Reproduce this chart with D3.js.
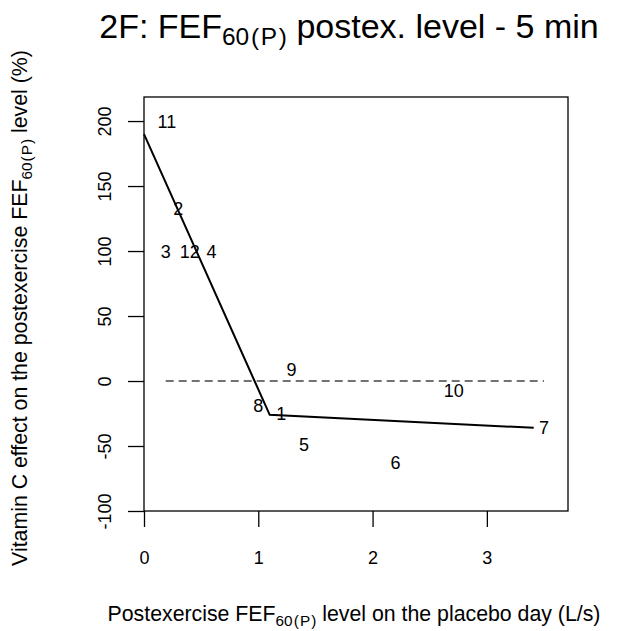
<!DOCTYPE html>
<html>
<head>
<meta charset="utf-8">
<script src="https://cdn.jsdelivr.net/npm/d3@7"></script>
<style>
  html, body { margin: 0; padding: 0; background: #fff; }
  svg { display: block; font-family: "Liberation Sans", Arial, Helvetica, sans-serif; }
</style>
</head>
<body>
<svg id="chart" width="623" height="631"></svg>
<script>
// ---- data ----
const labels  = ["1", "2", "3", "4", "5", "6", "7", "8", "9", "10", "11", "12"];
const xValues = [1.20, 0.30, 0.19, 0.59, 1.40, 2.20, 3.50, 1.00, 1.29, 2.71, 0.20, 0.40];
const yValues = [-25, 133, 100, 100, -49, -63, -36, -19, 8.5, -7, 200, 100];
const fitX = [0, 1.10, 3.41];
const fitY = [190, -26, -36];
const refX = [0.19, 3.50];
const refY = [0, 0];
const xTicks = [0, 1, 2, 3];
const yTicks = [-100, -50, 0, 50, 100, 150, 200];

// ---- layout ----
const pL = 144, pR = 568, pT = 97, pB = 511;
const svg = d3.select("#chart");

const x = d3.scaleLinear().domain([0, 3.71]).range([pL, pR]);
const y = d3.scaleLinear().domain([-100, 218.5]).range([pB, pT]);

const tickFont = 18;

// box
svg.append("rect")
  .attr("x", pL).attr("y", pT)
  .attr("width", pR - pL).attr("height", pB - pT)
  .attr("fill", "none").attr("stroke", "#000").attr("stroke-width", 1.3);

// x axis
const xAxis = svg.append("g")
  .attr("transform", `translate(0,${pB})`)
  .call(d3.axisBottom(x).tickValues(xTicks).tickFormat(d3.format("d")).tickSize(16).tickPadding(24));
xAxis.select(".domain").remove();
xAxis.selectAll("line").attr("stroke", "#000").attr("stroke-width", 1.3);
xAxis.selectAll("text").attr("font-size", tickFont).attr("fill", "#000")
  .attr("font-family", "Liberation Sans, Arial, sans-serif");

// y axis (rotated labels)
const yAxis = svg.append("g")
  .attr("transform", `translate(${pL},0)`)
  .call(d3.axisLeft(y).tickValues(yTicks).tickFormat(d3.format("d")).tickSize(16));
yAxis.select(".domain").remove();
yAxis.selectAll("line").attr("stroke", "#000").attr("stroke-width", 1.3);
yAxis.selectAll("text").remove();
yAxis.selectAll(".tick").append("text")
  .attr("transform", "translate(-39,0) rotate(-90)")
  .attr("text-anchor", "middle")
  .attr("dy", "0.35em")
  .attr("font-size", tickFont)
  .attr("font-family", "Liberation Sans, Arial, sans-serif")
  .attr("fill", "#000")
  .text(d => d);

// reference dashed line
svg.append("line")
  .attr("x1", x(refX[0])).attr("x2", x(refX[1]))
  .attr("y1", y(refY[0])).attr("y2", y(refY[1]))
  .attr("stroke", "#444").attr("stroke-width", 1.4)
  .attr("stroke-dasharray", "8,5");

// fitted line
const line = d3.line().x(d => x(d[0])).y(d => y(d[1]));
svg.append("path")
  .datum(fitX.map((v, i) => [v, fitY[i]]))
  .attr("d", line)
  .attr("fill", "none").attr("stroke", "#000").attr("stroke-width", 2);

// point labels
svg.append("g").selectAll("text")
  .data(labels)
  .join("text")
  .attr("x", (d, i) => x(xValues[i]))
  .attr("y", (d, i) => y(yValues[i]))
  .attr("text-anchor", "middle")
  .attr("dy", "0.36em")
  .attr("font-size", tickFont)
  .attr("fill", "#000")
  .text(d => d);

// helper for text with "FEF_60(P)" style subscript
function subText(g, before, after, size) {
  const t = g.append("text").attr("font-size", size).attr("fill", "#000");
  const sub = size * 0.72, shift = size * 0.22, gap = size * 0.05;
  t.append("tspan").text(before);
  t.append("tspan").attr("font-size", sub).attr("dy", shift).text("60");
  t.append("tspan").attr("font-size", sub).attr("dx", gap).text("(");
  t.append("tspan").attr("font-size", sub).attr("dx", gap).text("P");
  t.append("tspan").attr("font-size", sub).attr("dx", gap).text(")");
  t.append("tspan").attr("dy", -shift).text(after);
  return t;
}

// title
subText(svg, "2F: FEF", " postex. level - 5 min", 34)
  .attr("x", 349).attr("y", 38).attr("text-anchor", "middle");

// x label
subText(svg, "Postexercise FEF", " level on the placebo day (L/s)", 21.3)
  .attr("x", 354).attr("y", 621).attr("text-anchor", "middle");

// y label
subText(svg, "Vitamin C effect on the postexercise FEF", " level (%)", 21.3)
  .attr("transform", "translate(27,308) rotate(-90)")
  .attr("text-anchor", "middle");
</script>
</body>
</html>
